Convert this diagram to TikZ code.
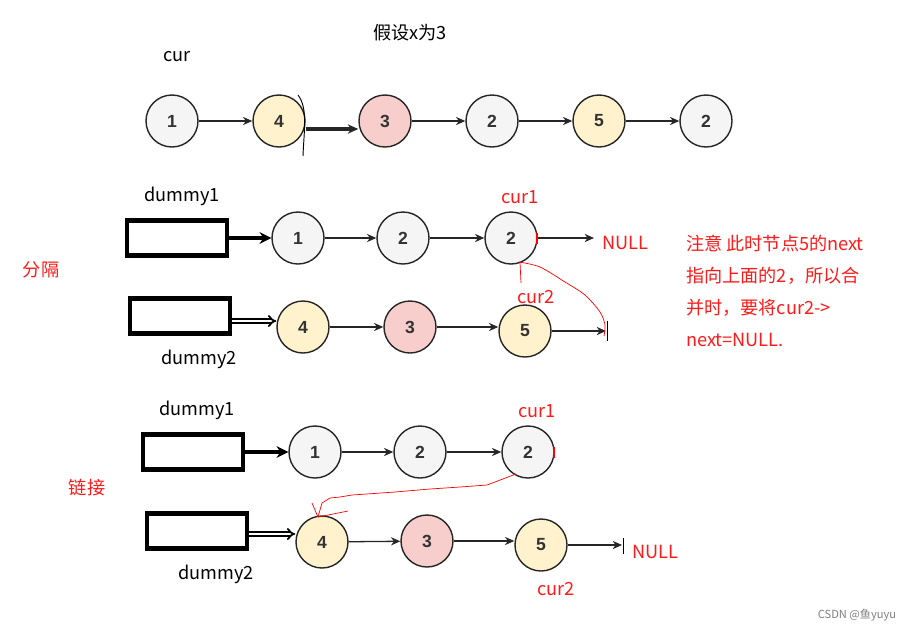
\documentclass[tikz,border=0pt]{standalone}
\usepackage{fontspec}
\setmainfont{Noto Sans CJK SC}
\newfontfamily\numfont{Liberation Sans}
\usetikzlibrary{arrows.meta}
\definecolor{gfill}{HTML}{F5F5F5}
\definecolor{yfill}{HTML}{FFF2CC}
\definecolor{pfill}{HTML}{F8CECC}
\definecolor{redt}{HTML}{FF1A1A}
\definecolor{edge}{HTML}{262626}
\begin{document}
\begin{tikzpicture}[x=0.03cm,y=-0.03cm,
 lnode/.style={circle,draw=edge,line width=1.2pt,minimum size=1.56cm,inner sep=0pt,font=\numfont\bfseries\fontsize{15}{15}\selectfont,text=black!80},
 gn/.style={lnode,fill=gfill}, yn/.style={lnode,fill=yfill}, pn/.style={lnode,fill=pfill},
 link/.style={-{Stealth[length=8pt,width=7pt]},line width=1.1pt,draw=edge},
 box/.style={draw,line width=3.8pt,minimum width=3.0cm,minimum height=1.05cm,inner sep=0pt},
 fat/.style={line width=3.8pt,-{Stealth[length=10pt,width=10pt]}},
 dbl/.style={double,double distance=1.8pt,line width=1.5pt,-{Implies[length=8pt]}},
 lab/.style={font=\fontsize{15.5}{18}\selectfont},
 rlab/.style={lab,text=redt},
 scrib/.style={draw=red,line width=0.6pt}
]
\path[use as bounding box,fill=white] (0,0) rectangle (915,632);

% title
\node[lab] (title) at (410,33) {假设x为3};
\node[lab] (cur) at (177,57) {cur};

% row 1
\node[gn] (a1) at (172,121) {1};
\node[yn] (a2) at (279,121) {4};
\node[pn] (a3) at (385,121) {3};
\node[gn] (a4) at (492,121) {2};
\node[yn] (a5) at (599,121) {5};
\node[gn] (a6) at (706,121) {2};
\draw[link] (a1) -- (a2);
\draw[line width=2.6pt,draw=edge,-{Stealth[length=9pt,width=8pt]}] (a2.east) ++(0,8) coordinate (a2s) -- (a3.west |- a2s);
\draw[link] (a3) -- (a4);
\draw[link] (a4) -- (a5);
\draw[link] (a5) -- (a6);
\draw[line width=0.8pt] (298,95) .. controls (308,108) and (304,130) .. (303,156);

% row 2
\node[lab] (d1lab) at (182,196) {dummy1};
\node[box] (d1) at (177,238) {};
\node[gn] (b1) at (298,238) {1};
\node[gn] (b2) at (403,238) {2};
\node[gn] (b3) at (511,238) {2};
\node[rlab] (cur1a) at (520,197) {cur1};
\coordinate (nullA) at (594,238);
\node[rlab,anchor=west] (nulla) at (598,243) {NULL};
\draw[fat] (d1.east) -- (b1.west);
\draw[link] (b1) -- (b2);
\draw[link] (b2) -- (b3);
\draw[link] (b3) -- (nullA);
\draw[red,line width=1.6pt] (537,233) -- (537,244);

% row 3
\node[box] (d2) at (180,316) {};
\node[lab] (d2lab) at (199,359) {dummy2};
\node[yn] (c1) at (303,327) {4};
\node[pn] (c2) at (410,327) {3};
\node[yn] (c3) at (525,331) {5};
\node[rlab] (cur2a) at (536,297) {cur2};
\coordinate (endC) at (606,331);
\draw[dbl] (d2.east) ++(0,5) coordinate (d2s) -- (c1.west |- d2s);
\draw[link] (c1) -- (c2);
\draw[link] (c2.east) -- (c3.west |- c2.east);
\draw[link] (c3) -- (endC);
\draw[line width=0.8pt] (607,321) -- (607,341);
\draw[scrib] plot[smooth] coordinates {(519,262) (540,267) (565,282) (585,295) (600,312) (605,325) (604,336)};
\draw[scrib] (520,262) -- (521,283);

% annotation
\node[rlab,anchor=west] (n1) at (682,244) {注意 此时节点5的next};
\node[rlab,anchor=west] (n2) at (682,276) {指向上面的2，所以合};
\node[rlab,anchor=west] (n3) at (682,308) {并时，要将cur2->};
\node[rlab,anchor=west] (n4) at (682,340) {next=NULL.};
\node[rlab] (fen) at (41,270) {分隔};
\node[rlab] (lian) at (87,488) {链接};

% row 4
\node[lab] (d3lab) at (197,410) {dummy1};
\node[box] (d3) at (193,452) {};
\node[gn] (e1) at (315,452) {1};
\node[gn] (e2) at (420,452) {2};
\node[gn] (e3) at (528,452) {2};
\node[rlab] (cur1b) at (537,411) {cur1};
\draw[fat] (d3.east) -- (e1.west);
\draw[link] (e1) -- (e2);
\draw[link] (e2) -- (e3);
\draw[red,line width=1.6pt] (554,447) -- (554,458);

% row 5
\node[box] (d4) at (197,531) {};
\node[lab] (d4lab) at (216,574) {dummy2};
\node[yn] (f1) at (322,542) {4};
\node[pn] (f2) at (427,541) {3};
\node[yn] (f3) at (541,545) {5};
\node[rlab] (cur2b) at (556,589) {cur2};
\coordinate (endF) at (622,545);
\node[rlab,anchor=west] (nullb) at (628,552) {NULL};
\draw[dbl] (d4.east) ++(0,3) coordinate (d4s) -- (f1.west |- d4s);
\draw[link] (f1) -- (f2);
\draw[link] (f2.east) -- (f3.west |- f2.east);
\draw[link] (f3) -- (endF);
\draw[line width=0.8pt] (623,538) -- (623,554);
\draw[scrib] plot coordinates {(516,474) (487,485) (460,487) (430,489) (395,492) (352,495) (340,497) (330,498) (322,503) (318,517)};
\draw[scrib] (312,503) -- (318,517) -- (348,511);

% watermark
\node[text=gray,font=\fontsize{9.5}{10}\selectfont] (wm) at (857,615) {CSDN @鱼yuyu};
\end{tikzpicture}
\end{document}
